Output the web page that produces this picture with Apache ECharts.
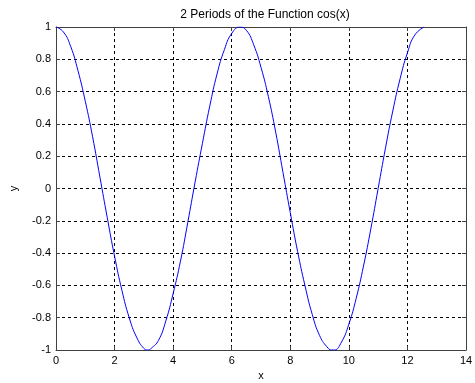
<!DOCTYPE html>
<html><head><meta charset="utf-8">
<script src="https://cdn.jsdelivr.net/npm/echarts@6/dist/echarts.min.js"></script>
<style>html,body{margin:0;padding:0;background:#fff}#c{width:475px;height:383px}</style>
</head><body><div id="c"></div>
<script>
const xValues = [0,0.25,0.5,0.75,1,1.25,1.5,1.75,2,2.25,2.5,2.75,3,3.14,3.25,3.5,3.75,4,4.25,4.5,4.75,5,5.25,5.5,5.75,6,6.28,6.5,6.75,7,7.25,7.5,7.75,8,8.25,8.5,8.75,9,9.25,9.42,9.5,9.75,10,10.25,10.5,10.75,11,11.25,11.5,11.75,12,12.25,12.57];
const yValues = [1,0.97,0.88,0.73,0.54,0.32,0.07,-0.18,-0.42,-0.63,-0.80,-0.92,-0.99,-1,-0.99,-0.94,-0.82,-0.65,-0.45,-0.21,0.04,0.28,0.51,0.71,0.86,0.96,1,0.98,0.89,0.75,0.57,0.35,0.10,-0.15,-0.39,-0.60,-0.78,-0.91,-0.98,-1,-1.00,-0.95,-0.84,-0.68,-0.48,-0.25,0.00,0.25,0.48,0.68,0.84,0.95,1];
const titleText = "2 Periods of the Function cos(x)";
const xLabel = "x", yLabel = "y";

const font = {fontFamily:'Arial, "Liberation Sans", sans-serif', fontSize:11, color:'#000'};
const axisCol = '#404040';
const chart = echarts.init(document.getElementById('c'), null, {renderer:'canvas'});
const baseX = {type:'value', min:0, max:14, interval:2};
const baseY = {type:'value', min:-1, max:1, interval:0.2};
chart.setOption({
  animation:false,
  title:{text:titleText, left:260, textAlign:'center', top:4, textStyle:{fontFamily:font.fontFamily, fontSize:12, fontWeight:'normal', color:'#000'}},
  grid:{left:56, right:9, top:27, bottom:33, show:false, containLabel:false, outerBoundsMode:'none'},
  xAxis:[
    Object.assign({}, baseX, {position:'bottom', name:xLabel, nameLocation:'middle', nameGap:20,
      nameTextStyle:font,
      axisLine:{show:true, onZero:false, lineStyle:{color:axisCol}},
      axisTick:{show:true, inside:true, length:4, lineStyle:{color:axisCol}},
      axisLabel:Object.assign({margin:5}, font),
      splitLine:{show:true, lineStyle:{color:'#000', type:[3,3], width:1}}}),
    Object.assign({}, baseX, {position:'top',
      axisLine:{show:true, onZero:false, lineStyle:{color:axisCol}},
      axisTick:{show:true, inside:true, length:4, lineStyle:{color:axisCol}},
      axisLabel:{show:false}, splitLine:{show:false}})
  ],
  yAxis:[
    Object.assign({}, baseY, {position:'left', name:yLabel, nameLocation:'middle', nameGap:37, nameRotate:90,
      nameTextStyle:font,
      axisLine:{show:true, onZero:false, lineStyle:{color:axisCol}},
      axisTick:{show:true, inside:true, length:4, lineStyle:{color:axisCol}},
      axisLabel:Object.assign({margin:5, formatter:v=>String(Math.round(v*10)/10)}, font),
      splitLine:{show:true, lineStyle:{color:'#000', type:[3,3], width:1}}}),
    Object.assign({}, baseY, {position:'right',
      axisLine:{show:true, onZero:false, lineStyle:{color:axisCol}},
      axisTick:{show:true, inside:true, length:4, lineStyle:{color:axisCol}},
      axisLabel:{show:false}, splitLine:{show:false}})
  ],
  series:[{type:'line', xAxisIndex:0, yAxisIndex:0, showSymbol:false, smooth:true,
    data:xValues.map((x,i)=>[x,yValues[i]]),
    lineStyle:{color:'#0000ff', width:1}, itemStyle:{color:'#0000ff'}}]
});
</script></body></html>
